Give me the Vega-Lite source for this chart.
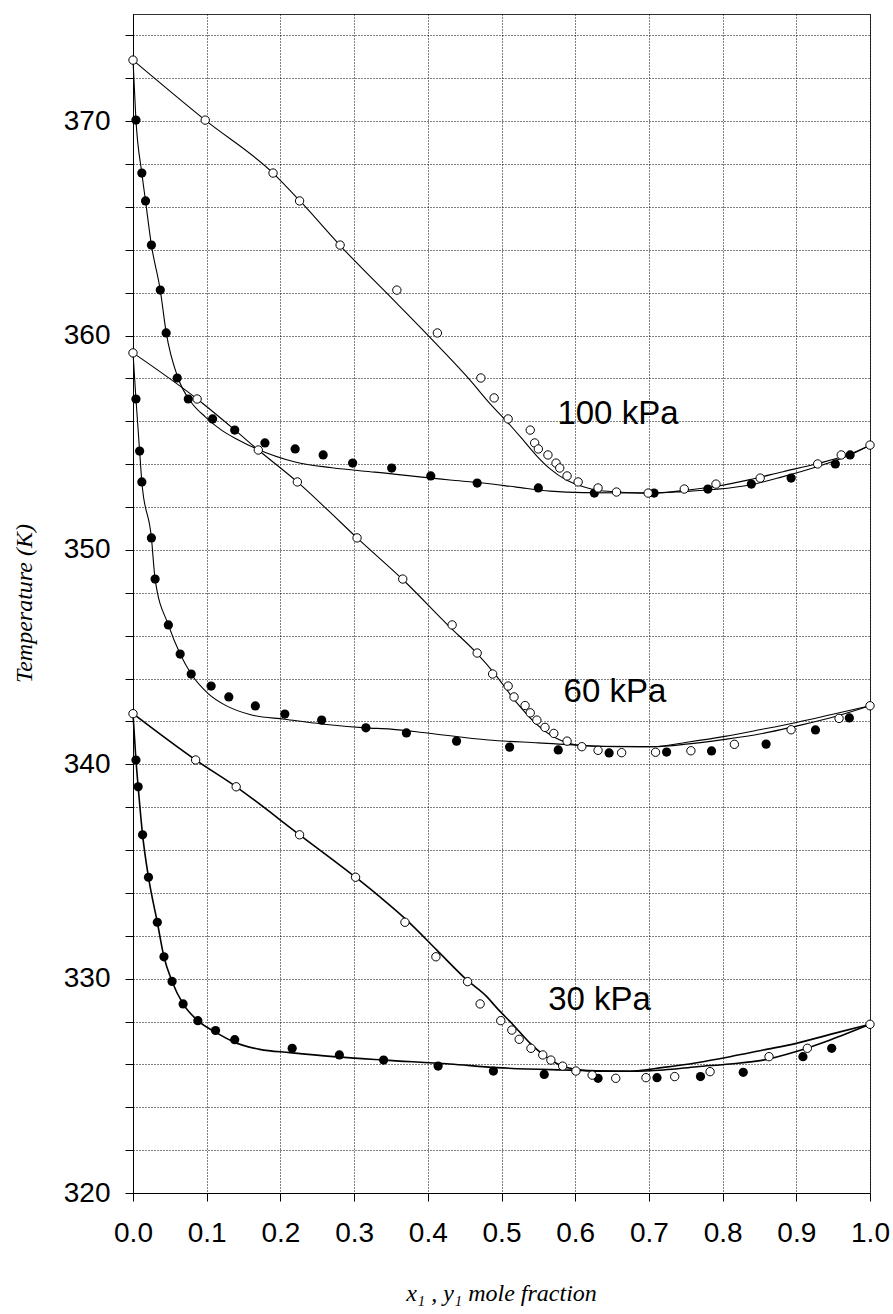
{
"$schema": "https://vega.github.io/schema/vega-lite/v6.json",
"width": 737,
"height": 1179,
"autosize": {"type": "none"},
"padding": {"left": 133, "top": 14, "right": 23, "bottom": 121},
"background": "white",
"config": {
  "view": {"stroke": "#333", "strokeWidth": 1},
  "axis": {"labelFont": "Liberation Sans", "labelFontSize": 28, "labelColor": "#000", "tickColor": "#000", "domainColor": "#000", "tickSize": 8, "grid": true, "gridColor": "#000", "gridDash": [1, 2], "gridOpacity": 1, "gridWidth": 1, "labelFlush": false, "labelOverlap": false, "labelBound": false, "titleFont": "Liberation Serif", "titleFontStyle": "italic", "titleFontWeight": "normal", "titleFontSize": 24, "titleColor": "#000"}
},
"datasets": {
  "pts": [
    {"p":"100","k":"v","x":0,"T":372.85},{"p":"100","k":"v","x":0.098,"T":370.05},{"p":"100","k":"v","x":0.19,"T":367.58},{"p":"100","k":"v","x":0.226,"T":366.28},{"p":"100","k":"v","x":0.281,"T":364.22},{"p":"100","k":"v","x":0.358,"T":362.12},{"p":"100","k":"v","x":0.413,"T":360.12},{"p":"100","k":"v","x":0.472,"T":358.02},{"p":"100","k":"v","x":0.49,"T":357.09},{"p":"100","k":"v","x":0.509,"T":356.11},{"p":"100","k":"v","x":0.539,"T":355.59},{"p":"100","k":"v","x":0.545,"T":354.99},{"p":"100","k":"v","x":0.55,"T":354.71},{"p":"100","k":"v","x":0.563,"T":354.43},{"p":"100","k":"v","x":0.574,"T":354.05},{"p":"100","k":"v","x":0.579,"T":353.82},{"p":"100","k":"v","x":0.589,"T":353.45},{"p":"100","k":"v","x":0.604,"T":353.17},{"p":"100","k":"v","x":0.631,"T":352.89},{"p":"100","k":"v","x":0.656,"T":352.7},{"p":"100","k":"v","x":0.699,"T":352.65},{"p":"100","k":"v","x":0.748,"T":352.84},{"p":"100","k":"v","x":0.791,"T":353.07},{"p":"100","k":"v","x":0.851,"T":353.35},{"p":"100","k":"v","x":0.929,"T":354.01},{"p":"100","k":"v","x":0.961,"T":354.43},{"p":"100","k":"v","x":1.0,"T":354.89},
    {"p":"100","k":"l","x":0.004,"T":370.05},{"p":"100","k":"l","x":0.012,"T":367.58},{"p":"100","k":"l","x":0.017,"T":366.28},{"p":"100","k":"l","x":0.025,"T":364.22},{"p":"100","k":"l","x":0.037,"T":362.12},{"p":"100","k":"l","x":0.045,"T":360.12},{"p":"100","k":"l","x":0.06,"T":358.02},{"p":"100","k":"l","x":0.075,"T":357.04},{"p":"100","k":"l","x":0.108,"T":356.11},{"p":"100","k":"l","x":0.138,"T":355.59},{"p":"100","k":"l","x":0.179,"T":354.99},{"p":"100","k":"l","x":0.22,"T":354.71},{"p":"100","k":"l","x":0.258,"T":354.43},{"p":"100","k":"l","x":0.298,"T":354.05},{"p":"100","k":"l","x":0.351,"T":353.82},{"p":"100","k":"l","x":0.404,"T":353.45},{"p":"100","k":"l","x":0.467,"T":353.12},{"p":"100","k":"l","x":0.55,"T":352.89},{"p":"100","k":"l","x":0.626,"T":352.65},{"p":"100","k":"l","x":0.707,"T":352.65},{"p":"100","k":"l","x":0.78,"T":352.84},{"p":"100","k":"l","x":0.839,"T":353.07},{"p":"100","k":"l","x":0.893,"T":353.35},{"p":"100","k":"l","x":0.953,"T":354.01},{"p":"100","k":"l","x":0.973,"T":354.43},
    {"p":"60","k":"v","x":0,"T":359.19},{"p":"60","k":"v","x":0.087,"T":357.04},{"p":"60","k":"v","x":0.17,"T":354.66},{"p":"60","k":"v","x":0.223,"T":353.17},{"p":"60","k":"v","x":0.304,"T":350.56},{"p":"60","k":"v","x":0.366,"T":348.64},{"p":"60","k":"v","x":0.433,"T":346.5},{"p":"60","k":"v","x":0.467,"T":345.19},{"p":"60","k":"v","x":0.488,"T":344.21},{"p":"60","k":"v","x":0.509,"T":343.65},{"p":"60","k":"v","x":0.517,"T":343.14},{"p":"60","k":"v","x":0.532,"T":342.74},{"p":"60","k":"v","x":0.539,"T":342.4},{"p":"60","k":"v","x":0.548,"T":342.06},{"p":"60","k":"v","x":0.559,"T":341.72},{"p":"60","k":"v","x":0.571,"T":341.44},{"p":"60","k":"v","x":0.589,"T":341.08},{"p":"60","k":"v","x":0.609,"T":340.82},{"p":"60","k":"v","x":0.631,"T":340.65},{"p":"60","k":"v","x":0.663,"T":340.54},{"p":"60","k":"v","x":0.709,"T":340.56},{"p":"60","k":"v","x":0.757,"T":340.63},{"p":"60","k":"v","x":0.816,"T":340.93},{"p":"60","k":"v","x":0.893,"T":341.61},{"p":"60","k":"v","x":0.958,"T":342.14},{"p":"60","k":"v","x":1.0,"T":342.73},
    {"p":"60","k":"l","x":0.004,"T":357.04},{"p":"60","k":"l","x":0.009,"T":354.61},{"p":"60","k":"l","x":0.012,"T":353.17},{"p":"60","k":"l","x":0.025,"T":350.56},{"p":"60","k":"l","x":0.03,"T":348.64},{"p":"60","k":"l","x":0.048,"T":346.5},{"p":"60","k":"l","x":0.064,"T":345.14},{"p":"60","k":"l","x":0.079,"T":344.21},{"p":"60","k":"l","x":0.106,"T":343.65},{"p":"60","k":"l","x":0.13,"T":343.14},{"p":"60","k":"l","x":0.166,"T":342.72},{"p":"60","k":"l","x":0.206,"T":342.34},{"p":"60","k":"l","x":0.256,"T":342.06},{"p":"60","k":"l","x":0.316,"T":341.7},{"p":"60","k":"l","x":0.371,"T":341.46},{"p":"60","k":"l","x":0.439,"T":341.08},{"p":"60","k":"l","x":0.511,"T":340.8},{"p":"60","k":"l","x":0.577,"T":340.67},{"p":"60","k":"l","x":0.646,"T":340.53},{"p":"60","k":"l","x":0.724,"T":340.57},{"p":"60","k":"l","x":0.785,"T":340.62},{"p":"60","k":"l","x":0.859,"T":340.94},{"p":"60","k":"l","x":0.926,"T":341.6},{"p":"60","k":"l","x":0.972,"T":342.16},
    {"p":"30","k":"v","x":0,"T":342.36},{"p":"30","k":"v","x":0.085,"T":340.2},{"p":"30","k":"v","x":0.14,"T":338.95},{"p":"30","k":"v","x":0.226,"T":336.71},{"p":"30","k":"v","x":0.302,"T":334.73},{"p":"30","k":"v","x":0.369,"T":332.63},{"p":"30","k":"v","x":0.411,"T":331.02},{"p":"30","k":"v","x":0.454,"T":329.86},{"p":"30","k":"v","x":0.471,"T":328.82},{"p":"30","k":"v","x":0.499,"T":328.04},{"p":"30","k":"v","x":0.514,"T":327.6},{"p":"30","k":"v","x":0.524,"T":327.17},{"p":"30","k":"v","x":0.54,"T":326.75},{"p":"30","k":"v","x":0.556,"T":326.44},{"p":"30","k":"v","x":0.567,"T":326.2},{"p":"30","k":"v","x":0.583,"T":325.92},{"p":"30","k":"v","x":0.601,"T":325.69},{"p":"30","k":"v","x":0.623,"T":325.5},{"p":"30","k":"v","x":0.655,"T":325.35},{"p":"30","k":"v","x":0.696,"T":325.38},{"p":"30","k":"v","x":0.735,"T":325.43},{"p":"30","k":"v","x":0.783,"T":325.66},{"p":"30","k":"v","x":0.863,"T":326.36},{"p":"30","k":"v","x":0.915,"T":326.75},{"p":"30","k":"v","x":1.0,"T":327.87},
    {"p":"30","k":"l","x":0.004,"T":340.2},{"p":"30","k":"l","x":0.007,"T":338.95},{"p":"30","k":"l","x":0.013,"T":336.71},{"p":"30","k":"l","x":0.021,"T":334.73},{"p":"30","k":"l","x":0.033,"T":332.63},{"p":"30","k":"l","x":0.042,"T":331.02},{"p":"30","k":"l","x":0.053,"T":329.87},{"p":"30","k":"l","x":0.068,"T":328.82},{"p":"30","k":"l","x":0.088,"T":328.04},{"p":"30","k":"l","x":0.112,"T":327.58},{"p":"30","k":"l","x":0.138,"T":327.15},{"p":"30","k":"l","x":0.216,"T":326.75},{"p":"30","k":"l","x":0.28,"T":326.44},{"p":"30","k":"l","x":0.34,"T":326.2},{"p":"30","k":"l","x":0.414,"T":325.92},{"p":"30","k":"l","x":0.489,"T":325.69},{"p":"30","k":"l","x":0.558,"T":325.53},{"p":"30","k":"l","x":0.631,"T":325.35},{"p":"30","k":"l","x":0.711,"T":325.38},{"p":"30","k":"l","x":0.77,"T":325.43},{"p":"30","k":"l","x":0.828,"T":325.63},{"p":"30","k":"l","x":0.909,"T":326.36},{"p":"30","k":"l","x":0.948,"T":326.75}
  ],
  "crv": [
    {"p":"100","c":"100b","x":0,"T":372.85},{"p":"100","c":"100b","x":0.004,"T":370.05},{"p":"100","c":"100b","x":0.012,"T":367.58},{"p":"100","c":"100b","x":0.017,"T":366.28},{"p":"100","c":"100b","x":0.025,"T":364.22},{"p":"100","c":"100b","x":0.037,"T":362.12},{"p":"100","c":"100b","x":0.045,"T":360.15},{"p":"100","c":"100b","x":0.061,"T":358.03},{"p":"100","c":"100b","x":0.08,"T":356.84},{"p":"100","c":"100b","x":0.098,"T":356.21},{"p":"100","c":"100b","x":0.12,"T":355.59},{"p":"100","c":"100b","x":0.143,"T":355.13},{"p":"100","c":"100b","x":0.166,"T":354.74},{"p":"100","c":"100b","x":0.22,"T":354.1},{"p":"100","c":"100b","x":0.27,"T":353.83},{"p":"100","c":"100b","x":0.328,"T":353.63},{"p":"100","c":"100b","x":0.43,"T":353.26},{"p":"100","c":"100b","x":0.475,"T":353.12},{"p":"100","c":"100b","x":0.52,"T":352.93},{"p":"100","c":"100b","x":0.566,"T":352.74},{"p":"100","c":"100b","x":0.611,"T":352.67},{"p":"100","c":"100b","x":0.702,"T":352.65},{"p":"100","c":"100b","x":0.746,"T":352.72},{"p":"100","c":"100b","x":0.792,"T":352.83},{"p":"100","c":"100b","x":0.837,"T":353.03},{"p":"100","c":"100b","x":0.882,"T":353.42},{"p":"100","c":"100b","x":0.928,"T":353.88},{"p":"100","c":"100b","x":0.973,"T":354.43},{"p":"100","c":"100b","x":1.0,"T":354.88},
    {"p":"100","c":"100d","x":0,"T":372.85},{"p":"100","c":"100d","x":0.098,"T":370.05},{"p":"100","c":"100d","x":0.19,"T":367.58},{"p":"100","c":"100d","x":0.226,"T":366.3},{"p":"100","c":"100d","x":0.281,"T":364.2},{"p":"100","c":"100d","x":0.358,"T":361.5},{"p":"100","c":"100d","x":0.413,"T":359.55},{"p":"100","c":"100d","x":0.457,"T":357.93},{"p":"100","c":"100d","x":0.484,"T":356.84},{"p":"100","c":"100d","x":0.507,"T":356.0},{"p":"100","c":"100d","x":0.53,"T":355.1},{"p":"100","c":"100d","x":0.548,"T":354.38},{"p":"100","c":"100d","x":0.566,"T":353.78},{"p":"100","c":"100d","x":0.588,"T":353.26},{"p":"100","c":"100d","x":0.611,"T":352.95},{"p":"100","c":"100d","x":0.634,"T":352.76},{"p":"100","c":"100d","x":0.702,"T":352.65},{"p":"100","c":"100d","x":0.75,"T":352.78},{"p":"100","c":"100d","x":0.792,"T":352.97},{"p":"100","c":"100d","x":0.837,"T":353.28},{"p":"100","c":"100d","x":0.882,"T":353.65},{"p":"100","c":"100d","x":0.928,"T":354.02},{"p":"100","c":"100d","x":0.973,"T":354.47},{"p":"100","c":"100d","x":1.0,"T":354.88},
    {"p":"60","c":"60b","x":0,"T":359.19},{"p":"60","c":"60b","x":0.004,"T":357.04},{"p":"60","c":"60b","x":0.009,"T":354.61},{"p":"60","c":"60b","x":0.012,"T":353.17},{"p":"60","c":"60b","x":0.025,"T":350.56},{"p":"60","c":"60b","x":0.03,"T":348.64},{"p":"60","c":"60b","x":0.048,"T":346.5},{"p":"60","c":"60b","x":0.064,"T":345.14},{"p":"60","c":"60b","x":0.079,"T":344.21},{"p":"60","c":"60b","x":0.102,"T":343.3},{"p":"60","c":"60b","x":0.125,"T":342.76},{"p":"60","c":"60b","x":0.161,"T":342.3},{"p":"60","c":"60b","x":0.206,"T":342.1},{"p":"60","c":"60b","x":0.256,"T":341.88},{"p":"60","c":"60b","x":0.316,"T":341.7},{"p":"60","c":"60b","x":0.35,"T":341.64},{"p":"60","c":"60b","x":0.399,"T":341.46},{"p":"60","c":"60b","x":0.482,"T":341.13},{"p":"60","c":"60b","x":0.55,"T":341.0},{"p":"60","c":"60b","x":0.638,"T":340.84},{"p":"60","c":"60b","x":0.705,"T":340.82},{"p":"60","c":"60b","x":0.754,"T":340.95},{"p":"60","c":"60b","x":0.803,"T":341.16},{"p":"60","c":"60b","x":0.852,"T":341.42},{"p":"60","c":"60b","x":0.9,"T":341.78},{"p":"60","c":"60b","x":0.948,"T":342.18},{"p":"60","c":"60b","x":1.0,"T":342.73},
    {"p":"60","c":"60d","x":0,"T":359.19},{"p":"60","c":"60d","x":0.087,"T":357.04},{"p":"60","c":"60d","x":0.138,"T":355.6},{"p":"60","c":"60d","x":0.17,"T":354.66},{"p":"60","c":"60d","x":0.223,"T":353.17},{"p":"60","c":"60d","x":0.26,"T":352.0},{"p":"60","c":"60d","x":0.304,"T":350.56},{"p":"60","c":"60d","x":0.366,"T":348.62},{"p":"60","c":"60d","x":0.43,"T":346.4},{"p":"60","c":"60d","x":0.466,"T":345.2},{"p":"60","c":"60d","x":0.489,"T":344.3},{"p":"60","c":"60d","x":0.52,"T":342.9},{"p":"60","c":"60d","x":0.548,"T":341.85},{"p":"60","c":"60d","x":0.575,"T":341.2},{"p":"60","c":"60d","x":0.602,"T":340.9},{"p":"60","c":"60d","x":0.64,"T":340.83},{"p":"60","c":"60d","x":0.705,"T":340.82},{"p":"60","c":"60d","x":0.754,"T":341.04},{"p":"60","c":"60d","x":0.803,"T":341.3},{"p":"60","c":"60d","x":0.852,"T":341.62},{"p":"60","c":"60d","x":0.9,"T":341.95},{"p":"60","c":"60d","x":0.948,"T":342.32},{"p":"60","c":"60d","x":1.0,"T":342.73},
    {"p":"30","c":"30b","x":0,"T":342.36},{"p":"30","c":"30b","x":0.004,"T":340.2},{"p":"30","c":"30b","x":0.007,"T":338.95},{"p":"30","c":"30b","x":0.013,"T":336.71},{"p":"30","c":"30b","x":0.021,"T":334.73},{"p":"30","c":"30b","x":0.033,"T":332.63},{"p":"30","c":"30b","x":0.042,"T":331.02},{"p":"30","c":"30b","x":0.053,"T":329.87},{"p":"30","c":"30b","x":0.068,"T":328.82},{"p":"30","c":"30b","x":0.088,"T":328.04},{"p":"30","c":"30b","x":0.113,"T":327.48},{"p":"30","c":"30b","x":0.136,"T":327.06},{"p":"30","c":"30b","x":0.172,"T":326.7},{"p":"30","c":"30b","x":0.213,"T":326.55},{"p":"30","c":"30b","x":0.272,"T":326.36},{"p":"30","c":"30b","x":0.34,"T":326.2},{"p":"30","c":"30b","x":0.43,"T":326.02},{"p":"30","c":"30b","x":0.493,"T":325.85},{"p":"30","c":"30b","x":0.584,"T":325.74},{"p":"30","c":"30b","x":0.674,"T":325.68},{"p":"30","c":"30b","x":0.72,"T":325.74},{"p":"30","c":"30b","x":0.765,"T":325.89},{"p":"30","c":"30b","x":0.81,"T":326.02},{"p":"30","c":"30b","x":0.855,"T":326.2},{"p":"30","c":"30b","x":0.9,"T":326.6},{"p":"30","c":"30b","x":0.946,"T":327.14},{"p":"30","c":"30b","x":1.0,"T":327.87},
    {"p":"30","c":"30d","x":0,"T":342.36},{"p":"30","c":"30d","x":0.085,"T":340.2},{"p":"30","c":"30d","x":0.14,"T":338.95},{"p":"30","c":"30d","x":0.226,"T":336.71},{"p":"30","c":"30d","x":0.302,"T":334.73},{"p":"30","c":"30d","x":0.335,"T":333.81},{"p":"30","c":"30d","x":0.371,"T":332.74},{"p":"30","c":"30d","x":0.412,"T":331.34},{"p":"30","c":"30d","x":0.453,"T":329.94},{"p":"30","c":"30d","x":0.48,"T":329.16},{"p":"30","c":"30d","x":0.493,"T":328.66},{"p":"30","c":"30d","x":0.516,"T":327.84},{"p":"30","c":"30d","x":0.539,"T":326.98},{"p":"30","c":"30d","x":0.557,"T":326.44},{"p":"30","c":"30d","x":0.579,"T":325.97},{"p":"30","c":"30d","x":0.602,"T":325.76},{"p":"30","c":"30d","x":0.629,"T":325.68},{"p":"30","c":"30d","x":0.674,"T":325.68},{"p":"30","c":"30d","x":0.72,"T":325.86},{"p":"30","c":"30d","x":0.765,"T":326.08},{"p":"30","c":"30d","x":0.81,"T":326.36},{"p":"30","c":"30d","x":0.855,"T":326.67},{"p":"30","c":"30d","x":0.9,"T":326.98},{"p":"30","c":"30d","x":0.946,"T":327.4},{"p":"30","c":"30d","x":1.0,"T":327.87}
  ],
  "lab": [
    {"x":0.658,"T":356.34,"t":"100 kPa"},
    {"x":0.654,"T":343.37,"t":"60 kPa"},
    {"x":0.633,"T":329.0,"t":"30 kPa"}
  ]
},
"encoding": {
  "x": {"field": "x", "type": "quantitative", "scale": {"domain": [0, 1], "nice": false, "zero": false},
        "axis": {"values": [0,0.1,0.2,0.3,0.4,0.5,0.6,0.7,0.8,0.9,1.0], "format": ".1f", "labelPadding": 18, "title": "x₁ , y₁ mole fraction", "titleX": 368, "titleY": 107, "titleBaseline": "alphabetic", "titleAnchor": null}},
  "y": {"field": "T", "type": "quantitative", "scale": {"domain": [320, 375], "nice": false, "zero": false},
        "axis": {"values": [320,322,324,326,328,330,332,334,336,338,340,342,344,346,348,350,352,354,356,358,360,362,364,366,368,370,372,374], "labelExpr": "datum.value % 10 === 0 ? datum.label : ''", "labelPadding": 15, "title": "Temperature (K)", "titleX": -109, "titleY": 589, "titleAngle": 270, "titleAlign": "center", "titleBaseline": "middle"}}
},
"layer": [
  {"data": {"name": "crv"}, "transform": [{"filter": "datum.p !== '30'"}], "mark": {"type": "line", "color": "#000", "strokeWidth": 1.1, "interpolate": "monotone"},
   "encoding": {"detail": {"field": "c", "type": "nominal"}}},
  {"data": {"name": "crv"}, "transform": [{"filter": "datum.p === '30'"}], "mark": {"type": "line", "color": "#000", "strokeWidth": 1.6, "interpolate": "monotone"},
   "encoding": {"detail": {"field": "c", "type": "nominal"}}},
  {"data": {"name": "pts"}, "transform": [{"filter": "datum.k === 'l'"}],
   "mark": {"type": "circle", "size": 85, "color": "#000", "opacity": 1}},
  {"data": {"name": "pts"}, "transform": [{"filter": "datum.k === 'v'"}],
   "mark": {"type": "point", "shape": "circle", "size": 70, "fill": "#fff", "stroke": "#000", "strokeWidth": 1, "filled": false, "opacity": 1, "fillOpacity": 1}},
  {"data": {"name": "lab"}, "mark": {"type": "text", "font": "Liberation Sans", "fontSize": 33, "color": "#000", "align": "center", "baseline": "middle"},
   "encoding": {"text": {"field": "t", "type": "nominal"}}}
]
}
